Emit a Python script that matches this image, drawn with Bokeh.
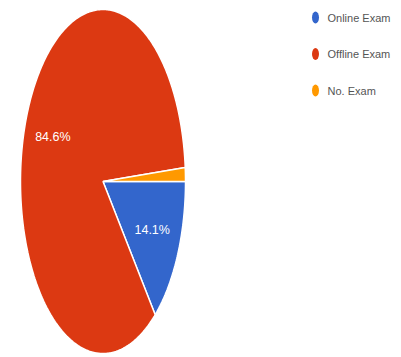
import numpy as np
from bokeh.plotting import figure
from bokeh.models import Range1d
from bokeh.core.properties import value
from bokeh.embed import file_html
from bokeh.resources import INLINE

# ---- data ----
categories = ["Online Exam", "Offline Exam", "No. Exam"]
percents = [14.1, 84.6, 1.3]
colors = ["#3366cc", "#dc3912", "#ff9900"]
show_label = [True, True, False]

# ---- layout (pixels) ----
W, H = 401, 357
cx, cy, rx, ry = 102.5, 181.0, 82.5, 172.0
label_frac = 0.66
FONT = "'Liberation Sans', Arial, sans-serif"

p = figure(width=W, height=H, output_backend="svg", toolbar_location=None,
           x_range=Range1d(0, W), y_range=Range1d(H, 0), min_border=0)
p.axis.visible = False
p.grid.visible = False
p.outline_line_color = None
p.background_fill_color = "white"
p.border_fill_color = "white"

# pie slices, clockwise starting at 3 o'clock
fr = np.array(percents) / sum(percents)
ends = -np.cumsum(fr) * 2 * np.pi
starts = np.concatenate([[0.0], ends[:-1]])
xs, ys, lx, ly, lt = [], [], [], [], []
for i, (a0, a1) in enumerate(zip(starts, ends)):
    t = np.linspace(a0, a1, max(int(abs(a1 - a0) * 80), 4))
    xs.append(list(np.concatenate([[cx], cx + rx * np.cos(t)])))
    ys.append(list(np.concatenate([[cy], cy - ry * np.sin(t)])))
    if show_label[i]:
        m = (a0 + a1) / 2
        lx.append(cx + label_frac * rx * np.cos(m))
        ly.append(cy - label_frac * ry * np.sin(m))
        lt.append(f"{percents[i]:.1f}%")

p.patches(xs=xs, ys=ys, fill_color=colors, line_color="white", line_width=1.5)
p.text(x=lx, y=ly, text=lt, text_color="white", text_font=value(FONT),
       text_font_size="12.5px", text_align="center", text_baseline="middle")

# legend
leg_x, leg_y0, leg_dy = 315, 17, 36.5
lgy = [leg_y0 + i * leg_dy for i in range(len(categories))]
p.ellipse(x=[leg_x] * len(categories), y=lgy, width=7, height=12,
          fill_color=colors, line_color=None)
p.text(x=[leg_x + 12] * len(categories), y=lgy, text=categories,
       text_color="#555555", text_font=value(FONT), text_font_size="11px",
       text_align="left", text_baseline="middle")

open("out.html", "w").write(file_html(p, INLINE))
